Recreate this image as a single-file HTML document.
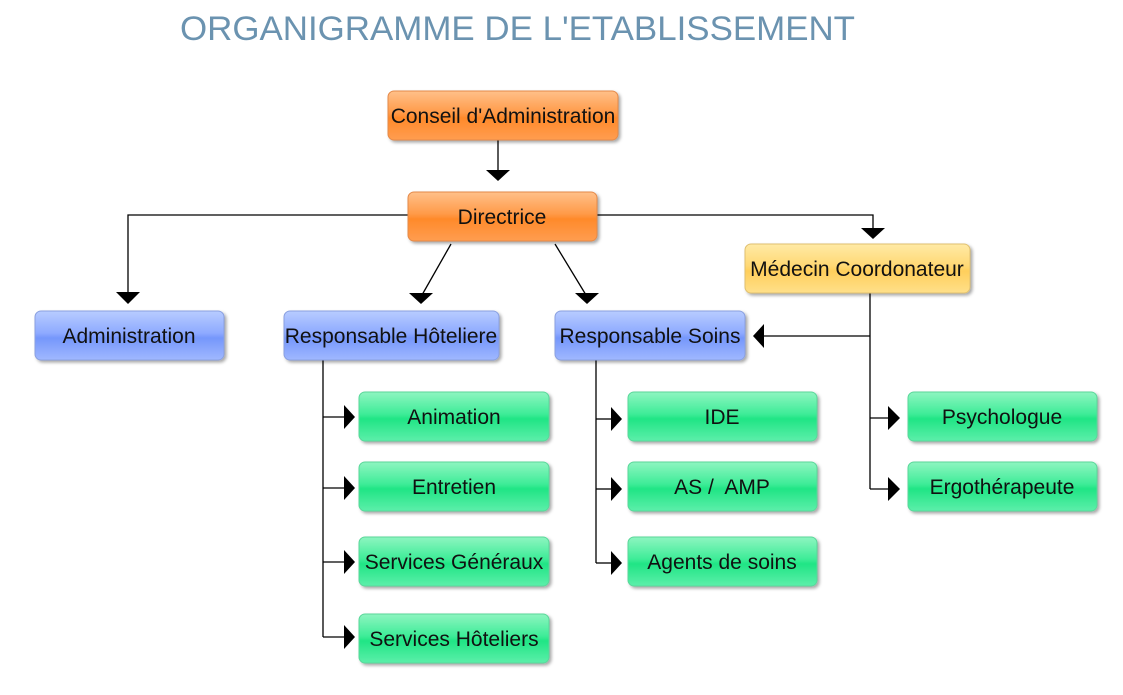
<!DOCTYPE html>
<html><head><meta charset="utf-8"><style>
html,body{margin:0;padding:0;background:#fff;width:1123px;height:695px;overflow:hidden}
</style></head><body>
<svg width="1123" height="695" xmlns="http://www.w3.org/2000/svg" font-family="Liberation Sans, sans-serif">
<defs>
<linearGradient id="or" x1="0" y1="0" x2="0" y2="1"><stop offset="0" stop-color="#ffc08a"/><stop offset="0.45" stop-color="#ff9a48"/><stop offset="0.55" stop-color="#ff8a2a"/><stop offset="1" stop-color="#ff9d50"/></linearGradient>
<linearGradient id="bl" x1="0" y1="0" x2="0" y2="1"><stop offset="0" stop-color="#b8ccff"/><stop offset="0.45" stop-color="#8eaaff"/><stop offset="0.55" stop-color="#7597fb"/><stop offset="1" stop-color="#a0b8ff"/></linearGradient>
<linearGradient id="ye" x1="0" y1="0" x2="0" y2="1"><stop offset="0" stop-color="#ffeaa6"/><stop offset="0.45" stop-color="#ffd874"/><stop offset="0.55" stop-color="#ffcf5c"/><stop offset="1" stop-color="#ffe08a"/></linearGradient>
<linearGradient id="gr" x1="0" y1="0" x2="0" y2="1"><stop offset="0" stop-color="#8ef5c0"/><stop offset="0.45" stop-color="#3eec98"/><stop offset="0.55" stop-color="#20e585"/><stop offset="1" stop-color="#5cefaa"/></linearGradient>
<filter id="sh" x="-10%" y="-20%" width="120%" height="150%"><feDropShadow dx="2" dy="2" stdDeviation="1.5" flood-color="#000" flood-opacity="0.35"/></filter>
</defs>
<text x="180" y="40" font-size="34" fill="#6b93b0" textLength="675" lengthAdjust="spacingAndGlyphs">ORGANIGRAMME DE L'ETABLISSEMENT</text>

<g stroke="#000" stroke-width="1.3" fill="none">
<line x1="498" y1="140" x2="498" y2="172"/>
<polyline points="408,215 128,215 128,294"/>
<polyline points="597,215 873,215 873,229"/>
<line x1="451" y1="244" x2="422" y2="295"/>
<line x1="555" y1="244" x2="586" y2="295"/>
<line x1="870" y1="293" x2="870" y2="489"/>
<line x1="870" y1="336" x2="763" y2="336"/>
<line x1="870" y1="418" x2="888" y2="418"/>
<line x1="870" y1="489" x2="888" y2="489"/>
<line x1="323" y1="360" x2="323" y2="637"/>
<line x1="323" y1="417" x2="344" y2="417"/>
<line x1="323" y1="488" x2="344" y2="488"/>
<line x1="323" y1="562" x2="344" y2="562"/>
<line x1="323" y1="637" x2="344" y2="637"/>
<line x1="596" y1="360" x2="596" y2="563"/>
<line x1="596" y1="419" x2="612" y2="419"/>
<line x1="596" y1="489" x2="612" y2="489"/>
<line x1="596" y1="563" x2="612" y2="563"/>
</g>
<g fill="#000">
<polygon points="486,170 510,170 498,181"/>
<polygon points="116,292 140,292 128,304"/>
<polygon points="861,228 885,228 873,239"/>
<polygon points="409,293 433,293 421,304"/>
<polygon points="575,293 599,293 587,304"/>
<polygon points="764,324 764,348 753,336"/>
<polygon points="888,406 888,430 900,418"/>
<polygon points="888,477 888,501 900,489"/>
<polygon points="344,405 344,429 355,417"/>
<polygon points="344,476 344,500 355,488"/>
<polygon points="344,550 344,574 355,562"/>
<polygon points="344,625 344,649 355,637"/>
<polygon points="611,407 611,431 622,419"/>
<polygon points="611,477 611,501 622,489"/>
<polygon points="611,551 611,575 622,563"/>
</g>

<g filter="url(#sh)" stroke-width="1">
<rect x="388" y="91" width="230" height="49" rx="6" fill="url(#or)" stroke="#e58a4a"/>
<rect x="408" y="192" width="189" height="49" rx="6" fill="url(#or)" stroke="#e58a4a"/>
<rect x="745" y="244" width="225" height="49" rx="6" fill="url(#ye)" stroke="#e0c070"/>
<rect x="35" y="311" width="189" height="49" rx="6" fill="url(#bl)" stroke="#8aa0e0"/>
<rect x="284" y="311" width="215" height="49" rx="6" fill="url(#bl)" stroke="#8aa0e0"/>
<rect x="555" y="311" width="190" height="49" rx="6" fill="url(#bl)" stroke="#8aa0e0"/>
<rect x="359" y="392" width="190" height="49" rx="6" fill="url(#gr)" stroke="#5ad79a"/>
<rect x="359" y="462" width="190" height="49" rx="6" fill="url(#gr)" stroke="#5ad79a"/>
<rect x="359" y="537" width="190" height="49" rx="6" fill="url(#gr)" stroke="#5ad79a"/>
<rect x="359" y="614" width="190" height="49" rx="6" fill="url(#gr)" stroke="#5ad79a"/>
<rect x="628" y="392" width="189" height="49" rx="6" fill="url(#gr)" stroke="#5ad79a"/>
<rect x="628" y="462" width="189" height="49" rx="6" fill="url(#gr)" stroke="#5ad79a"/>
<rect x="628" y="537" width="189" height="49" rx="6" fill="url(#gr)" stroke="#5ad79a"/>
<rect x="908" y="392" width="189" height="49" rx="6" fill="url(#gr)" stroke="#5ad79a"/>
<rect x="908" y="462" width="189" height="49" rx="6" fill="url(#gr)" stroke="#5ad79a"/>
</g>

<g font-size="21" fill="#111" text-anchor="middle">
<text x="503" y="123">Conseil d'Administration</text>
<text x="502" y="224">Directrice</text>
<text x="857" y="276">Médecin Coordonateur</text>
<text x="129" y="343">Administration</text>
<text x="391" y="343">Responsable Hôteliere</text>
<text x="650" y="343">Responsable Soins</text>
<text x="454" y="424">Animation</text>
<text x="454" y="494">Entretien</text>
<text x="454" y="569">Services Généraux</text>
<text x="454" y="646">Services Hôteliers</text>
<text x="722" y="424">IDE</text>
<text x="722" y="494" xml:space="preserve">AS /  AMP</text>
<text x="722" y="569">Agents de soins</text>
<text x="1002" y="424">Psychologue</text>
<text x="1002" y="494">Ergothérapeute</text>
</g>
</svg>
</body></html>
